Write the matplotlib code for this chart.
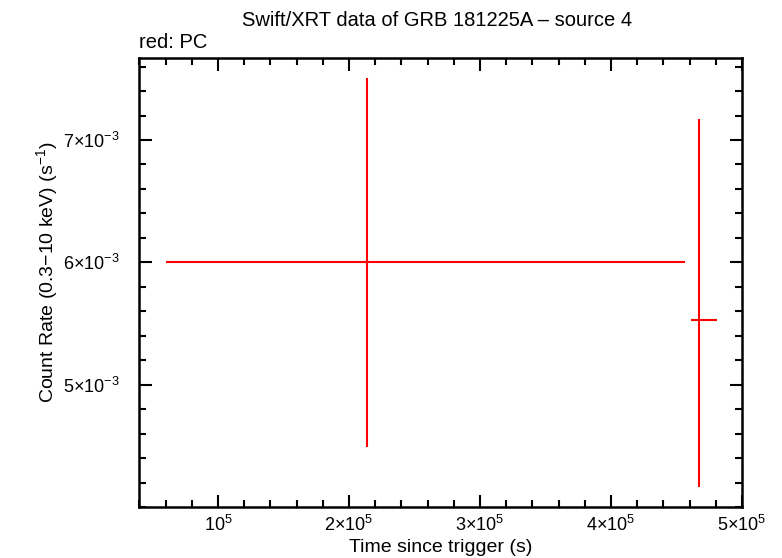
import numpy as np
import matplotlib
matplotlib.use("Agg")
import matplotlib.pyplot as plt
from matplotlib.ticker import FixedLocator, MultipleLocator

plt.rcParams['font.family'] = ['Liberation Sans', 'DejaVu Sans']
plt.rcParams['mathtext.fontset'] = 'custom'
plt.rcParams['mathtext.rm'] = 'Liberation Sans'
plt.rcParams['mathtext.it'] = 'Liberation Sans:italic'

# PC mode data (time in s, rate in counts/s)
t = [213700, 467200]
t_lo = [60300, 461000]
t_hi = [456500, 480900]
rate = [6.0e-3, 5.53e-3]
rate_hi = [7.506e-3, 7.17e-3]
rate_lo = [4.494e-3, 4.167e-3]

xticks = [1e5, 2e5, 3e5, 4e5, 5e5]
xlabels = [r'$10^5$', r'$2{\times}10^5$', r'$3{\times}10^5$', r'$4{\times}10^5$', r'$5{\times}10^5$']
yticks = [5e-3, 6e-3, 7e-3]
ylabels = [r'$5{\times}10^{-3}$', r'$6{\times}10^{-3}$', r'$7{\times}10^{-3}$']

t = np.array(t); rate = np.array(rate)
xerr = [t - np.array(t_lo), np.array(t_hi) - t]
yerr = [rate - np.array(rate_lo), np.array(rate_hi) - rate]

fig = plt.figure(figsize=(7.82, 5.58), dpi=100)
ax = fig.add_axes([139/782, 1 - 507/558, (742 - 139)/782, (507 - 58)/558])

ax.errorbar(t, rate, xerr=xerr, yerr=yerr, fmt='none', ecolor='#ff0000',
            elinewidth=1.5, capsize=0)

ax.set_xlim(39700, 5e5)
ax.set_ylim(4.0e-3, 7.67e-3)

ax.xaxis.set_major_locator(FixedLocator(xticks))
ax.set_xticklabels(xlabels)
ax.xaxis.set_minor_locator(MultipleLocator(2e4))
ax.yaxis.set_major_locator(FixedLocator(yticks))
ax.set_yticklabels(ylabels)
ax.yaxis.set_minor_locator(MultipleLocator(2e-4))

ax.tick_params(which='both', direction='in', top=True, right=True, width=1.5,
               labelsize=13, colors='black')
ax.tick_params(which='major', length=9)
ax.tick_params(which='minor', length=5)
ax.tick_params(axis='x', which='major', pad=6)
ax.tick_params(axis='y', which='major', pad=14)
for s in ax.spines.values():
    s.set_linewidth(1.8)

ax.set_xlabel('Time since trigger (s)', fontsize=14)
ax.xaxis.set_label_coords(0.5, -(547 - 507)/449)
ax.xaxis.label.set_va('center')
ax.set_ylabel(r'Count Rate (0.3$-$10 keV) (s$^{-1}$)', fontsize=14)
ax.yaxis.set_label_coords((47 - 139)/603, (507 - 272)/449)
ax.yaxis.label.set_va('center')
fig.text(437/782, 1 - 20/558, 'Swift/XRT data of GRB 181225A \u2013 source 4',
         ha='center', va='center', fontsize=14.5)
fig.text(139/782, 1 - 42/558, 'red: PC', ha='left', va='center', fontsize=14.5)

fig.savefig('out.png', dpi=100)
